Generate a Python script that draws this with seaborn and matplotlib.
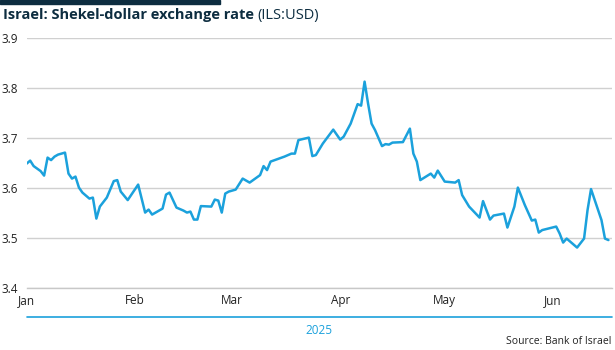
import pandas as pd
import seaborn as sns
import matplotlib.pyplot as plt
import matplotlib.dates as mdates
from matplotlib.lines import Line2D

# Shekel-dollar rate
dates = [
    "2025-01-01", "2025-01-02", "2025-01-03", "2025-01-05", "2025-01-06", "2025-01-07",
    "2025-01-08", "2025-01-09", "2025-01-10", "2025-01-12", "2025-01-13", "2025-01-14",
    "2025-01-15", "2025-01-16", "2025-01-17", "2025-01-19", "2025-01-20", "2025-01-21",
    "2025-01-22", "2025-01-24", "2025-01-26", "2025-01-27", "2025-01-28", "2025-01-30",
    "2025-02-02", "2025-02-04", "2025-02-05", "2025-02-06", "2025-02-09", "2025-02-10",
    "2025-02-11", "2025-02-13", "2025-02-15", "2025-02-16", "2025-02-17", "2025-02-18",
    "2025-02-19", "2025-02-20", "2025-02-23", "2025-02-24", "2025-02-25", "2025-02-26",
    "2025-02-27", "2025-02-28", "2025-03-02", "2025-03-04", "2025-03-06", "2025-03-09",
    "2025-03-10", "2025-03-11", "2025-03-12", "2025-03-16", "2025-03-18", "2025-03-19",
    "2025-03-20", "2025-03-23", "2025-03-24", "2025-03-25", "2025-03-27", "2025-03-30",
    "2025-04-01", "2025-04-02", "2025-04-04", "2025-04-06", "2025-04-07", "2025-04-08",
    "2025-04-09", "2025-04-10", "2025-04-11", "2025-04-13", "2025-04-14", "2025-04-15",
    "2025-04-16", "2025-04-19", "2025-04-21", "2025-04-22", "2025-04-23", "2025-04-24",
    "2025-04-27", "2025-04-28", "2025-04-29", "2025-05-01", "2025-05-04", "2025-05-05",
    "2025-05-06", "2025-05-08", "2025-05-11", "2025-05-12", "2025-05-14", "2025-05-15",
    "2025-05-18", "2025-05-19", "2025-05-21", "2025-05-22", "2025-05-24", "2025-05-26",
    "2025-05-27", "2025-05-28", "2025-05-29", "2025-06-02", "2025-06-03", "2025-06-04",
    "2025-06-05", "2025-06-08", "2025-06-10", "2025-06-11", "2025-06-12", "2025-06-15",
    "2025-06-16", "2025-06-17",
]
rate = [
    3.649, 3.655, 3.644, 3.634, 3.625, 3.661,
    3.656, 3.663, 3.667, 3.671, 3.629, 3.619,
    3.623, 3.601, 3.591, 3.579, 3.581, 3.539,
    3.563, 3.581, 3.614, 3.616, 3.593, 3.576,
    3.607, 3.551, 3.557, 3.547, 3.559, 3.587,
    3.591, 3.561, 3.555, 3.551, 3.553, 3.537,
    3.537, 3.564, 3.563, 3.577, 3.575, 3.551,
    3.589, 3.593, 3.597, 3.619, 3.611, 3.626,
    3.644, 3.636, 3.653, 3.663, 3.669, 3.669,
    3.696, 3.701, 3.664, 3.666, 3.689, 3.717,
    3.697, 3.703, 3.729, 3.768, 3.765, 3.813,
    3.769, 3.729, 3.716, 3.684, 3.688, 3.687,
    3.691, 3.692, 3.719, 3.669, 3.653, 3.616,
    3.629, 3.621, 3.635, 3.613, 3.611, 3.616,
    3.586, 3.563, 3.541, 3.574, 3.537, 3.545,
    3.549, 3.521, 3.563, 3.601, 3.566, 3.535,
    3.537, 3.511, 3.516, 3.523, 3.509, 3.491,
    3.499, 3.481, 3.499, 3.556, 3.598, 3.536,
    3.499, 3.496,
]
y_ticks = [3.4, 3.5, 3.6, 3.7, 3.8, 3.9]
month_labels = ["Jan", "Feb", "Mar", "Apr", "May", "Jun"]

df = pd.DataFrame({"date": pd.to_datetime(dates), "rate": rate})

sns.set_style("white")
plt.rcParams["font.family"] = ["Open Sans", "DejaVu Sans"]

navy = "#0d2d40"
blue = "#1ba1dc"
text_col = "#222222"

fig = plt.figure(figsize=(6.15, 3.5), dpi=100)
ax = fig.add_axes([0.0434, 0.177, 0.9516, 0.714])

sns.lineplot(data=df, x="date", y="rate", ax=ax, color=blue, linewidth=1.8)

ax.set_ylim(3.4, 3.9)
ax.set_yticks(y_ticks)
ax.set_yticklabels([f"{v:.1f}" for v in y_ticks])
ax.set_xlim(pd.Timestamp("2025-01-01"), pd.Timestamp("2025-06-18"))
ax.xaxis.set_major_locator(mdates.MonthLocator())
ax.set_xticklabels(month_labels)
ax.grid(axis="y", color="#d0d0d0", linewidth=1)
ax.set_axisbelow(True)
for s in ["top", "right", "left"]:
    ax.spines[s].set_visible(False)
ax.spines["bottom"].set_color("#c8c8c8")
ax.spines["bottom"].set_linewidth(1)
ax.tick_params(axis="x", direction="in", length=4, color="#c8c8c8", labelsize=8.5,
               labelcolor=text_col, pad=4)
ax.tick_params(axis="y", length=0, labelsize=8.5, labelcolor=text_col, pad=6)
ax.set_xlabel("")
ax.set_ylabel("")

# year band under the month labels
fig.add_artist(Line2D([26.7 / 615, 612 / 615], [1 - 317 / 350] * 2, color=blue, linewidth=1.2))
fig.text(319 / 615, 1 - 330 / 350, "2025", color=blue, fontsize=8.5, ha="center", va="center")
fig.text(611 / 615, 1 - 342 / 350, "Source: Bank of Israel", color=text_col, fontsize=7.5,
         ha="right", va="center")

# header bar and title
fig.add_artist(plt.Rectangle((0, 1 - 3.5 / 350), 220 / 615, 3.5 / 350, color=navy,
                             transform=fig.transFigure))
t1 = fig.text(3 / 615, 1 - 15 / 350, "Israel: Shekel-dollar exchange rate", color=navy,
              fontsize=10.5, fontweight="bold", ha="left", va="center")
fig.canvas.draw()
bb = t1.get_window_extent()
fig.text(bb.x1 / fig.bbox.width + 0.006, 1 - 15 / 350, "(ILS:USD)", color=navy,
         fontsize=10.5, ha="left", va="center")

fig.savefig("out.png", dpi=100)
